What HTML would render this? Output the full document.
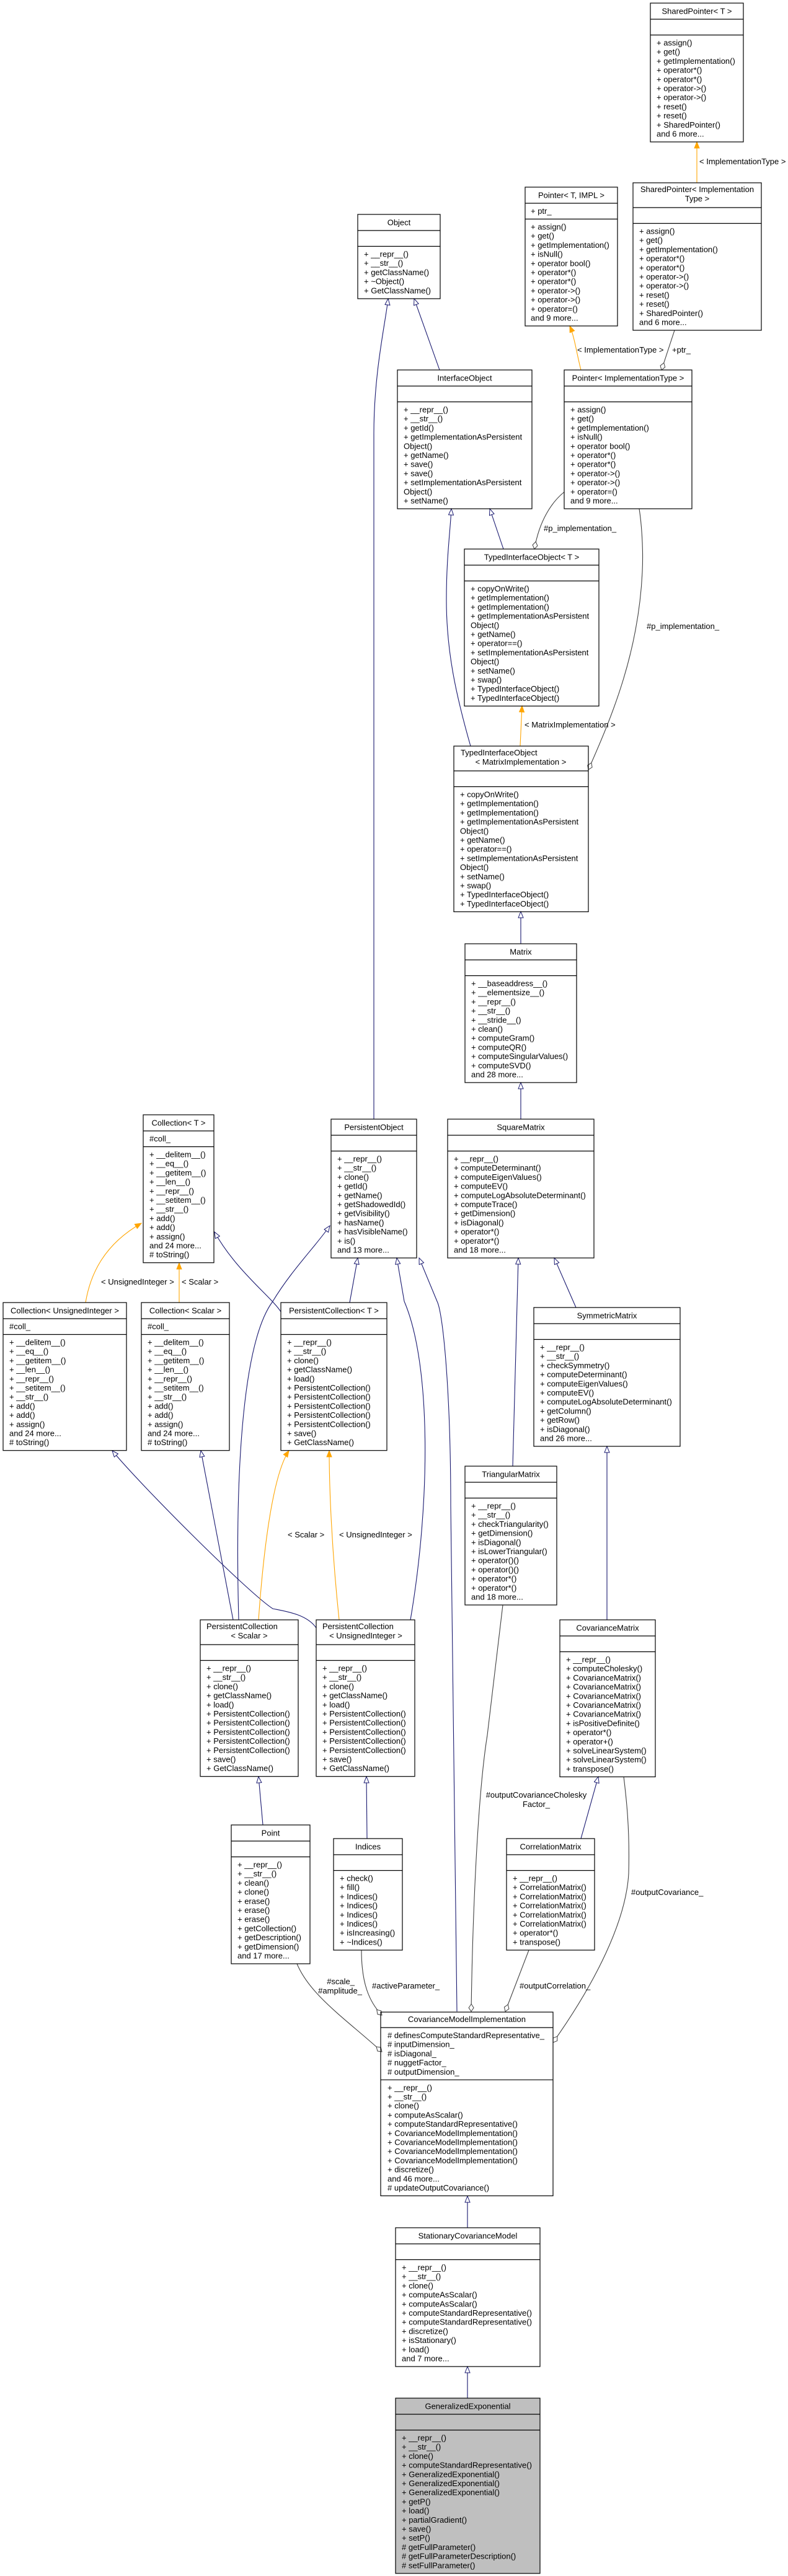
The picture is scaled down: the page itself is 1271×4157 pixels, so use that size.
<!DOCTYPE html>
<html><head><meta charset="utf-8"><style>
html,body{margin:0;padding:0;background:#fff}
svg{display:block}
text{font-family:"Liberation Sans",Arial,sans-serif;font-size:13px;fill:#000}
.c{text-anchor:middle}
.e{text-anchor:end}
rect,.ln{fill:none;stroke:#000;stroke-width:1.2}
.b{fill:none;stroke:#191970;stroke-width:1.1}
.o{fill:none;stroke:#ffa500;stroke-width:1.1}
.g{fill:none;stroke:#404040;stroke-width:1.1}
</style></head><body>
<svg width="1271" height="4157" viewBox="0 0 1271 4157" xmlns="http://www.w3.org/2000/svg">
<defs>
<marker id="tb" markerUnits="userSpaceOnUse" markerWidth="12" markerHeight="10" refX="11" refY="4.5" orient="auto"><path d="M1,0.5 L11,4.5 L1,8.5 Z" fill="#fff" stroke="#191970" stroke-width="1"/></marker>
<marker id="to" markerUnits="userSpaceOnUse" markerWidth="12" markerHeight="10" refX="11" refY="4.5" orient="auto"><path d="M1,0.5 L11,4.5 L1,8.5 Z" fill="#ffa500" stroke="#ffa500" stroke-width="1"/></marker>
<marker id="dg" markerUnits="userSpaceOnUse" markerWidth="14" markerHeight="10" refX="1" refY="5" orient="auto"><path d="M1,5 L7,1 L13,5 L7,9 Z" fill="#fff" stroke="#404040" stroke-width="1"/></marker>
</defs>

<!-- edges: blue inheritance -->
<path class="b" marker-end="url(#tb)" d="M603,1806 L603,700 C603,600 622,520 626,482"/>
<path class="b" marker-end="url(#tb)" d="M709,597 L668,482"/>
<path class="b" marker-end="url(#tb)" d="M812,886 L790,821"/>
<path class="b" marker-end="url(#tb)" d="M759,1204 C735,1120 720,1050 720,968 C720,900 726,860 728,821"/>
<path class="b" marker-end="url(#tb)" d="M840,1523 L840,1471"/>
<path class="b" marker-end="url(#tb)" d="M840,1806 L840,1747"/>
<path class="b" marker-end="url(#tb)" d="M453,2117 C440,2095 380,2050 346,1988"/>
<path class="b" marker-end="url(#tb)" d="M385,2614 C378,2350 395,2160 440,2100 C470,2050 510,2010 532,1978"/>
<path class="b" marker-end="url(#tb)" d="M564,2102 L577,2030"/>
<path class="b" marker-end="url(#tb)" d="M662,2614 C695,2420 695,2200 652,2100 L640,2030"/>
<path class="b" marker-end="url(#tb)" d="M737,3246 L727,2430 C727,2250 715,2120 705,2100 L676,2030"/>
<path class="b" marker-end="url(#tb)" d="M827,2366 L836,2030"/>
<path class="b" marker-end="url(#tb)" d="M929,2110 L894,2030"/>
<path class="b" marker-end="url(#tb)" d="M979,2614 L979,2334"/>
<path class="b" marker-end="url(#tb)" d="M937,2967 L965,2867"/>
<path class="b" marker-end="url(#tb)" d="M510,2627 C495,2605 460,2600 440,2596 C400,2570 230,2400 181,2341"/>
<path class="b" marker-end="url(#tb)" d="M376,2614 L324,2341"/>
<path class="b" marker-end="url(#tb)" d="M424,2945 L417,2867"/>
<path class="b" marker-end="url(#tb)" d="M592,2967 L591,2867"/>
<path class="b" marker-end="url(#tb)" d="M754,3595 L754,3544"/>
<path class="b" marker-end="url(#tb)" d="M754,3870 L754,3819"/>

<!-- orange template -->
<path class="o" marker-end="url(#to)" d="M1124,295 L1124,229"/>
<path class="o" marker-end="url(#to)" d="M937,597 C930,570 927,545 919,526"/>
<path class="o" marker-end="url(#to)" d="M138,2102 C145,2060 165,2010 228,1974"/>
<path class="o" marker-end="url(#to)" d="M289,2102 L289,2038"/>
<path class="o" marker-end="url(#to)" d="M417,2614 C425,2500 440,2380 466,2341"/>
<path class="o" marker-end="url(#to)" d="M547,2614 C535,2500 531,2400 531,2341"/>
<path class="o" marker-end="url(#to)" d="M839,1204 L842,1139"/>

<!-- gray associations -->
<path class="g" marker-start="url(#dg)" d="M1067,597 L1088,533"/>
<path class="g" marker-start="url(#dg)" d="M862,886 C870,840 890,810 910,794"/>
<path class="g" marker-start="url(#dg)" d="M949,1242 C990,1150 1030,1050 1036,923 C1038,880 1034,840 1031,821"/>
<path class="g" marker-start="url(#dg)" d="M760,3246 C762,3100 770,2900 786,2800 L811,2590"/>
<path class="g" marker-start="url(#dg)" d="M815,3246 L853,3147"/>
<path class="g" marker-start="url(#dg)" d="M892,3296 C960,3200 1010,3100 1014,3023 C1016,2950 1010,2900 1006,2867"/>
<path class="g" marker-start="url(#dg)" d="M616,3311 C560,3260 500,3220 479,3169"/>
<path class="g" marker-start="url(#dg)" d="M616,3252 C595,3230 583,3200 583,3147"/>

<!-- edge labels -->
<text x="1128" y="265">&lt; ImplementationType &gt;</text>
<text x="931" y="569">&lt; ImplementationType &gt;</text>
<text x="1084" y="569">+ptr_</text>
<text x="877" y="857">#p_implementation_</text>
<text x="1043" y="1015">#p_implementation_</text>
<text x="846" y="1174">&lt; MatrixImplementation &gt;</text>
<text x="163" y="2073">&lt; UnsignedInteger &gt;</text>
<text x="293" y="2073">&lt; Scalar &gt;</text>
<text x="464" y="2481">&lt; Scalar &gt;</text>
<text x="547" y="2481">&lt; UnsignedInteger &gt;</text>
<text class="c" x="865" y="2901">#outputCovarianceCholesky</text>
<text class="c" x="865" y="2916">Factor_</text>
<text x="1018" y="3058">#outputCovariance_</text>
<text class="e" x="572" y="3202">#scale_</text>
<text class="e" x="584" y="3217">#amplitude_</text>
<text x="600" y="3209">#activeParameter_</text>
<text x="838" y="3209">#outputCorrelation_</text>

<!-- 1 SharedPointer<T> -->
<rect x="1049" y="5" width="150" height="224" fill="#fff"/><path class="ln" d="M1049,31H1199M1049,56.5H1199"/>
<text class="c" x="1124" y="22.5">SharedPointer&lt; T &gt;</text>
<text x="1059" y="73.5"><tspan x="1059" dy="0">+ assign()</tspan><tspan x="1059" dy="14.7">+ get()</tspan><tspan x="1059" dy="14.7">+ getImplementation()</tspan><tspan x="1059" dy="14.7">+ operator*()</tspan><tspan x="1059" dy="14.7">+ operator*()</tspan><tspan x="1059" dy="14.7">+ operator-&gt;()</tspan><tspan x="1059" dy="14.7">+ operator-&gt;()</tspan><tspan x="1059" dy="14.7">+ reset()</tspan><tspan x="1059" dy="14.7">+ reset()</tspan><tspan x="1059" dy="14.7">+ SharedPointer()</tspan><tspan x="1059" dy="14.7">and 6 more...</tspan></text>

<!-- 2 Pointer<T, IMPL> -->
<rect x="847" y="302" width="149" height="224"/><path class="ln" d="M847,328H996M847,353.5H996"/>
<text class="c" x="921.5" y="319.5">Pointer&lt; T, IMPL &gt;</text>
<text x="856" y="345">+ ptr_</text>
<text x="856" y="370.5"><tspan x="856" dy="0">+ assign()</tspan><tspan x="856" dy="14.7">+ get()</tspan><tspan x="856" dy="14.7">+ getImplementation()</tspan><tspan x="856" dy="14.7">+ isNull()</tspan><tspan x="856" dy="14.7">+ operator bool()</tspan><tspan x="856" dy="14.7">+ operator*()</tspan><tspan x="856" dy="14.7">+ operator*()</tspan><tspan x="856" dy="14.7">+ operator-&gt;()</tspan><tspan x="856" dy="14.7">+ operator-&gt;()</tspan><tspan x="856" dy="14.7">+ operator=()</tspan><tspan x="856" dy="14.7">and 9 more...</tspan></text>

<!-- 3 SharedPointer<ImplementationType> -->
<rect x="1021" y="295" width="207" height="238"/><path class="ln" d="M1021,335H1228M1021,360.5H1228"/>
<text class="c" x="1124.5" y="310">SharedPointer&lt; Implementation</text>
<text class="c" x="1124.5" y="325">Type &gt;</text>
<text x="1031" y="377.5"><tspan x="1031" dy="0">+ assign()</tspan><tspan x="1031" dy="14.7">+ get()</tspan><tspan x="1031" dy="14.7">+ getImplementation()</tspan><tspan x="1031" dy="14.7">+ operator*()</tspan><tspan x="1031" dy="14.7">+ operator*()</tspan><tspan x="1031" dy="14.7">+ operator-&gt;()</tspan><tspan x="1031" dy="14.7">+ operator-&gt;()</tspan><tspan x="1031" dy="14.7">+ reset()</tspan><tspan x="1031" dy="14.7">+ reset()</tspan><tspan x="1031" dy="14.7">+ SharedPointer()</tspan><tspan x="1031" dy="14.7">and 6 more...</tspan></text>

<!-- 4 Object -->
<rect x="577" y="346" width="133" height="136"/><path class="ln" d="M577,372H710M577,397.5H710"/>
<text class="c" x="643.5" y="363.5">Object</text>
<text x="587" y="414.5"><tspan x="587" dy="0">+ __repr__()</tspan><tspan x="587" dy="14.7">+ __str__()</tspan><tspan x="587" dy="14.7">+ getClassName()</tspan><tspan x="587" dy="14.7">+ ~Object()</tspan><tspan x="587" dy="14.7">+ GetClassName()</tspan></text>

<!-- 5 InterfaceObject -->
<rect x="641" y="597" width="217" height="224"/><path class="ln" d="M641,623H858M641,648.5H858"/>
<text class="c" x="749.5" y="614.5">InterfaceObject</text>
<text x="651" y="665.5"><tspan x="651" dy="0">+ __repr__()</tspan><tspan x="651" dy="14.7">+ __str__()</tspan><tspan x="651" dy="14.7">+ getId()</tspan><tspan x="651" dy="14.7">+ getImplementationAsPersistent</tspan><tspan x="651" dy="14.7">Object()</tspan><tspan x="651" dy="14.7">+ getName()</tspan><tspan x="651" dy="14.7">+ save()</tspan><tspan x="651" dy="14.7">+ save()</tspan><tspan x="651" dy="14.7">+ setImplementationAsPersistent</tspan><tspan x="651" dy="14.7">Object()</tspan><tspan x="651" dy="14.7">+ setName()</tspan></text>

<!-- 6 Pointer<ImplementationType> -->
<rect x="910" y="597" width="206" height="224"/><path class="ln" d="M910,623H1116M910,648.5H1116"/>
<text class="c" x="1013" y="614.5">Pointer&lt; ImplementationType &gt;</text>
<text x="920" y="665.5"><tspan x="920" dy="0">+ assign()</tspan><tspan x="920" dy="14.7">+ get()</tspan><tspan x="920" dy="14.7">+ getImplementation()</tspan><tspan x="920" dy="14.7">+ isNull()</tspan><tspan x="920" dy="14.7">+ operator bool()</tspan><tspan x="920" dy="14.7">+ operator*()</tspan><tspan x="920" dy="14.7">+ operator*()</tspan><tspan x="920" dy="14.7">+ operator-&gt;()</tspan><tspan x="920" dy="14.7">+ operator-&gt;()</tspan><tspan x="920" dy="14.7">+ operator=()</tspan><tspan x="920" dy="14.7">and 9 more...</tspan></text>

<!-- 7 TypedInterfaceObject<T> -->
<rect x="749" y="886" width="217" height="253.4"/><path class="ln" d="M749,912H966M749,937.5H966"/>
<text class="c" x="857.5" y="903.5">TypedInterfaceObject&lt; T &gt;</text>
<text x="759" y="954.5"><tspan x="759" dy="0">+ copyOnWrite()</tspan><tspan x="759" dy="14.7">+ getImplementation()</tspan><tspan x="759" dy="14.7">+ getImplementation()</tspan><tspan x="759" dy="14.7">+ getImplementationAsPersistent</tspan><tspan x="759" dy="14.7">Object()</tspan><tspan x="759" dy="14.7">+ getName()</tspan><tspan x="759" dy="14.7">+ operator==()</tspan><tspan x="759" dy="14.7">+ setImplementationAsPersistent</tspan><tspan x="759" dy="14.7">Object()</tspan><tspan x="759" dy="14.7">+ setName()</tspan><tspan x="759" dy="14.7">+ swap()</tspan><tspan x="759" dy="14.7">+ TypedInterfaceObject()</tspan><tspan x="759" dy="14.7">+ TypedInterfaceObject()</tspan></text>

<!-- 8 TypedInterfaceObject<MatrixImplementation> -->
<rect x="732" y="1204" width="217" height="267.4"/><path class="ln" d="M732,1244H949M732,1269.5H949"/>
<text x="743" y="1219">TypedInterfaceObject</text>
<text class="c" x="840" y="1234">&lt; MatrixImplementation &gt;</text>
<text x="742" y="1286.5"><tspan x="742" dy="0">+ copyOnWrite()</tspan><tspan x="742" dy="14.7">+ getImplementation()</tspan><tspan x="742" dy="14.7">+ getImplementation()</tspan><tspan x="742" dy="14.7">+ getImplementationAsPersistent</tspan><tspan x="742" dy="14.7">Object()</tspan><tspan x="742" dy="14.7">+ getName()</tspan><tspan x="742" dy="14.7">+ operator==()</tspan><tspan x="742" dy="14.7">+ setImplementationAsPersistent</tspan><tspan x="742" dy="14.7">Object()</tspan><tspan x="742" dy="14.7">+ setName()</tspan><tspan x="742" dy="14.7">+ swap()</tspan><tspan x="742" dy="14.7">+ TypedInterfaceObject()</tspan><tspan x="742" dy="14.7">+ TypedInterfaceObject()</tspan></text>

<!-- 9 Matrix -->
<rect x="750" y="1523" width="180" height="224"/><path class="ln" d="M750,1549H930M750,1574.5H930"/>
<text class="c" x="840" y="1540.5">Matrix</text>
<text x="760" y="1591.5"><tspan x="760" dy="0">+ __baseaddress__()</tspan><tspan x="760" dy="14.7">+ __elementsize__()</tspan><tspan x="760" dy="14.7">+ __repr__()</tspan><tspan x="760" dy="14.7">+ __str__()</tspan><tspan x="760" dy="14.7">+ __stride__()</tspan><tspan x="760" dy="14.7">+ clean()</tspan><tspan x="760" dy="14.7">+ computeGram()</tspan><tspan x="760" dy="14.7">+ computeQR()</tspan><tspan x="760" dy="14.7">+ computeSingularValues()</tspan><tspan x="760" dy="14.7">+ computeSVD()</tspan><tspan x="760" dy="14.7">and 28 more...</tspan></text>

<!-- 10 Collection<T> -->
<rect x="231" y="1799" width="114" height="238.7"/><path class="ln" d="M231,1825H345M231,1850.5H345"/>
<text class="c" x="288" y="1816.5">Collection&lt; T &gt;</text>
<text x="241" y="1842">#coll_</text>
<text x="241" y="1867.5"><tspan x="241" dy="0">+ __delitem__()</tspan><tspan x="241" dy="14.7">+ __eq__()</tspan><tspan x="241" dy="14.7">+ __getitem__()</tspan><tspan x="241" dy="14.7">+ __len__()</tspan><tspan x="241" dy="14.7">+ __repr__()</tspan><tspan x="241" dy="14.7">+ __setitem__()</tspan><tspan x="241" dy="14.7">+ __str__()</tspan><tspan x="241" dy="14.7">+ add()</tspan><tspan x="241" dy="14.7">+ add()</tspan><tspan x="241" dy="14.7">+ assign()</tspan><tspan x="241" dy="14.7">and 24 more...</tspan><tspan x="241" dy="14.7"># toString()</tspan></text>

<!-- 11 PersistentObject -->
<rect x="534" y="1806" width="138" height="224"/><path class="ln" d="M534,1832H672M534,1857.5H672"/>
<text class="c" x="603" y="1823.5">PersistentObject</text>
<text x="544" y="1874.5"><tspan x="544" dy="0">+ __repr__()</tspan><tspan x="544" dy="14.7">+ __str__()</tspan><tspan x="544" dy="14.7">+ clone()</tspan><tspan x="544" dy="14.7">+ getId()</tspan><tspan x="544" dy="14.7">+ getName()</tspan><tspan x="544" dy="14.7">+ getShadowedId()</tspan><tspan x="544" dy="14.7">+ getVisibility()</tspan><tspan x="544" dy="14.7">+ hasName()</tspan><tspan x="544" dy="14.7">+ hasVisibleName()</tspan><tspan x="544" dy="14.7">+ is()</tspan><tspan x="544" dy="14.7">and 13 more...</tspan></text>

<!-- 12 SquareMatrix -->
<rect x="722" y="1806" width="236" height="224"/><path class="ln" d="M722,1832H958M722,1857.5H958"/>
<text class="c" x="840" y="1823.5">SquareMatrix</text>
<text x="732" y="1874.5"><tspan x="732" dy="0">+ __repr__()</tspan><tspan x="732" dy="14.7">+ computeDeterminant()</tspan><tspan x="732" dy="14.7">+ computeEigenValues()</tspan><tspan x="732" dy="14.7">+ computeEV()</tspan><tspan x="732" dy="14.7">+ computeLogAbsoluteDeterminant()</tspan><tspan x="732" dy="14.7">+ computeTrace()</tspan><tspan x="732" dy="14.7">+ getDimension()</tspan><tspan x="732" dy="14.7">+ isDiagonal()</tspan><tspan x="732" dy="14.7">+ operator*()</tspan><tspan x="732" dy="14.7">+ operator*()</tspan><tspan x="732" dy="14.7">and 18 more...</tspan></text>

<!-- 13 Collection<UnsignedInteger> -->
<rect x="5" y="2102" width="199" height="238.7"/><path class="ln" d="M5,2128H204M5,2153.5H204"/>
<text class="c" x="104.5" y="2119.5">Collection&lt; UnsignedInteger &gt;</text>
<text x="15" y="2145">#coll_</text>
<text x="15" y="2170.5"><tspan x="15" dy="0">+ __delitem__()</tspan><tspan x="15" dy="14.7">+ __eq__()</tspan><tspan x="15" dy="14.7">+ __getitem__()</tspan><tspan x="15" dy="14.7">+ __len__()</tspan><tspan x="15" dy="14.7">+ __repr__()</tspan><tspan x="15" dy="14.7">+ __setitem__()</tspan><tspan x="15" dy="14.7">+ __str__()</tspan><tspan x="15" dy="14.7">+ add()</tspan><tspan x="15" dy="14.7">+ add()</tspan><tspan x="15" dy="14.7">+ assign()</tspan><tspan x="15" dy="14.7">and 24 more...</tspan><tspan x="15" dy="14.7"># toString()</tspan></text>

<!-- 14 Collection<Scalar> -->
<rect x="228" y="2102" width="142" height="238.7"/><path class="ln" d="M228,2128H370M228,2153.5H370"/>
<text class="c" x="299" y="2119.5">Collection&lt; Scalar &gt;</text>
<text x="238" y="2145">#coll_</text>
<text x="238" y="2170.5"><tspan x="238" dy="0">+ __delitem__()</tspan><tspan x="238" dy="14.7">+ __eq__()</tspan><tspan x="238" dy="14.7">+ __getitem__()</tspan><tspan x="238" dy="14.7">+ __len__()</tspan><tspan x="238" dy="14.7">+ __repr__()</tspan><tspan x="238" dy="14.7">+ __setitem__()</tspan><tspan x="238" dy="14.7">+ __str__()</tspan><tspan x="238" dy="14.7">+ add()</tspan><tspan x="238" dy="14.7">+ add()</tspan><tspan x="238" dy="14.7">+ assign()</tspan><tspan x="238" dy="14.7">and 24 more...</tspan><tspan x="238" dy="14.7"># toString()</tspan></text>

<!-- 15 PersistentCollection<T> -->
<rect x="453" y="2102" width="171" height="238.7"/><path class="ln" d="M453,2128H624M453,2153.5H624"/>
<text class="c" x="538.5" y="2119.5">PersistentCollection&lt; T &gt;</text>
<text x="463" y="2170.5"><tspan x="463" dy="0">+ __repr__()</tspan><tspan x="463" dy="14.7">+ __str__()</tspan><tspan x="463" dy="14.7">+ clone()</tspan><tspan x="463" dy="14.7">+ getClassName()</tspan><tspan x="463" dy="14.7">+ load()</tspan><tspan x="463" dy="14.7">+ PersistentCollection()</tspan><tspan x="463" dy="14.7">+ PersistentCollection()</tspan><tspan x="463" dy="14.7">+ PersistentCollection()</tspan><tspan x="463" dy="14.7">+ PersistentCollection()</tspan><tspan x="463" dy="14.7">+ PersistentCollection()</tspan><tspan x="463" dy="14.7">+ save()</tspan><tspan x="463" dy="14.7">+ GetClassName()</tspan></text>

<!-- 16 SymmetricMatrix -->
<rect x="861" y="2110" width="236" height="224"/><path class="ln" d="M861,2136H1097M861,2161.5H1097"/>
<text class="c" x="979" y="2127.5">SymmetricMatrix</text>
<text x="871" y="2178.5"><tspan x="871" dy="0">+ __repr__()</tspan><tspan x="871" dy="14.7">+ __str__()</tspan><tspan x="871" dy="14.7">+ checkSymmetry()</tspan><tspan x="871" dy="14.7">+ computeDeterminant()</tspan><tspan x="871" dy="14.7">+ computeEigenValues()</tspan><tspan x="871" dy="14.7">+ computeEV()</tspan><tspan x="871" dy="14.7">+ computeLogAbsoluteDeterminant()</tspan><tspan x="871" dy="14.7">+ getColumn()</tspan><tspan x="871" dy="14.7">+ getRow()</tspan><tspan x="871" dy="14.7">+ isDiagonal()</tspan><tspan x="871" dy="14.7">and 26 more...</tspan></text>

<!-- 17 TriangularMatrix -->
<rect x="750" y="2366" width="148" height="224"/><path class="ln" d="M750,2392H898M750,2417.5H898"/>
<text class="c" x="824" y="2383.5">TriangularMatrix</text>
<text x="760" y="2434.5"><tspan x="760" dy="0">+ __repr__()</tspan><tspan x="760" dy="14.7">+ __str__()</tspan><tspan x="760" dy="14.7">+ checkTriangularity()</tspan><tspan x="760" dy="14.7">+ getDimension()</tspan><tspan x="760" dy="14.7">+ isDiagonal()</tspan><tspan x="760" dy="14.7">+ isLowerTriangular()</tspan><tspan x="760" dy="14.7">+ operator()()</tspan><tspan x="760" dy="14.7">+ operator()()</tspan><tspan x="760" dy="14.7">+ operator*()</tspan><tspan x="760" dy="14.7">+ operator*()</tspan><tspan x="760" dy="14.7">and 18 more...</tspan></text>

<!-- 18 PersistentCollection<Scalar> -->
<rect x="323" y="2614" width="158" height="252.7"/><path class="ln" d="M323,2654H481M323,2679.5H481"/>
<text x="333" y="2629">PersistentCollection</text>
<text class="c" x="402" y="2644">&lt; Scalar &gt;</text>
<text x="333" y="2696.5"><tspan x="333" dy="0">+ __repr__()</tspan><tspan x="333" dy="14.7">+ __str__()</tspan><tspan x="333" dy="14.7">+ clone()</tspan><tspan x="333" dy="14.7">+ getClassName()</tspan><tspan x="333" dy="14.7">+ load()</tspan><tspan x="333" dy="14.7">+ PersistentCollection()</tspan><tspan x="333" dy="14.7">+ PersistentCollection()</tspan><tspan x="333" dy="14.7">+ PersistentCollection()</tspan><tspan x="333" dy="14.7">+ PersistentCollection()</tspan><tspan x="333" dy="14.7">+ PersistentCollection()</tspan><tspan x="333" dy="14.7">+ save()</tspan><tspan x="333" dy="14.7">+ GetClassName()</tspan></text>

<!-- 19 PersistentCollection<UnsignedInteger> -->
<rect x="510" y="2614" width="159" height="252.7"/><path class="ln" d="M510,2654H669M510,2679.5H669"/>
<text x="520" y="2629">PersistentCollection</text>
<text class="c" x="590" y="2644">&lt; UnsignedInteger &gt;</text>
<text x="520" y="2696.5"><tspan x="520" dy="0">+ __repr__()</tspan><tspan x="520" dy="14.7">+ __str__()</tspan><tspan x="520" dy="14.7">+ clone()</tspan><tspan x="520" dy="14.7">+ getClassName()</tspan><tspan x="520" dy="14.7">+ load()</tspan><tspan x="520" dy="14.7">+ PersistentCollection()</tspan><tspan x="520" dy="14.7">+ PersistentCollection()</tspan><tspan x="520" dy="14.7">+ PersistentCollection()</tspan><tspan x="520" dy="14.7">+ PersistentCollection()</tspan><tspan x="520" dy="14.7">+ PersistentCollection()</tspan><tspan x="520" dy="14.7">+ save()</tspan><tspan x="520" dy="14.7">+ GetClassName()</tspan></text>

<!-- 20 CovarianceMatrix -->
<rect x="903" y="2614" width="154" height="253.4"/><path class="ln" d="M903,2640H1057M903,2665.5H1057"/>
<text class="c" x="980" y="2631.5">CovarianceMatrix</text>
<text x="913" y="2682.5"><tspan x="913" dy="0">+ __repr__()</tspan><tspan x="913" dy="14.7">+ computeCholesky()</tspan><tspan x="913" dy="14.7">+ CovarianceMatrix()</tspan><tspan x="913" dy="14.7">+ CovarianceMatrix()</tspan><tspan x="913" dy="14.7">+ CovarianceMatrix()</tspan><tspan x="913" dy="14.7">+ CovarianceMatrix()</tspan><tspan x="913" dy="14.7">+ CovarianceMatrix()</tspan><tspan x="913" dy="14.7">+ isPositiveDefinite()</tspan><tspan x="913" dy="14.7">+ operator*()</tspan><tspan x="913" dy="14.7">+ operator+()</tspan><tspan x="913" dy="14.7">+ solveLinearSystem()</tspan><tspan x="913" dy="14.7">+ solveLinearSystem()</tspan><tspan x="913" dy="14.7">+ transpose()</tspan></text>

<!-- 21 Point -->
<rect x="373" y="2945" width="127" height="224"/><path class="ln" d="M373,2971H500M373,2996.5H500"/>
<text class="c" x="436.5" y="2962.5">Point</text>
<text x="383" y="3013.5"><tspan x="383" dy="0">+ __repr__()</tspan><tspan x="383" dy="14.7">+ __str__()</tspan><tspan x="383" dy="14.7">+ clean()</tspan><tspan x="383" dy="14.7">+ clone()</tspan><tspan x="383" dy="14.7">+ erase()</tspan><tspan x="383" dy="14.7">+ erase()</tspan><tspan x="383" dy="14.7">+ erase()</tspan><tspan x="383" dy="14.7">+ getCollection()</tspan><tspan x="383" dy="14.7">+ getDescription()</tspan><tspan x="383" dy="14.7">+ getDimension()</tspan><tspan x="383" dy="14.7">and 17 more...</tspan></text>

<!-- 22 Indices -->
<rect x="538" y="2967" width="111" height="180"/><path class="ln" d="M538,2993H649M538,3018.5H649"/>
<text class="c" x="593.5" y="2984.5">Indices</text>
<text x="548" y="3035.5"><tspan x="548" dy="0">+ check()</tspan><tspan x="548" dy="14.7">+ fill()</tspan><tspan x="548" dy="14.7">+ Indices()</tspan><tspan x="548" dy="14.7">+ Indices()</tspan><tspan x="548" dy="14.7">+ Indices()</tspan><tspan x="548" dy="14.7">+ Indices()</tspan><tspan x="548" dy="14.7">+ isIncreasing()</tspan><tspan x="548" dy="14.7">+ ~Indices()</tspan></text>

<!-- 23 CorrelationMatrix -->
<rect x="817" y="2967" width="142" height="180"/><path class="ln" d="M817,2993H959M817,3018.5H959"/>
<text class="c" x="888" y="2984.5">CorrelationMatrix</text>
<text x="827" y="3035.5"><tspan x="827" dy="0">+ __repr__()</tspan><tspan x="827" dy="14.7">+ CorrelationMatrix()</tspan><tspan x="827" dy="14.7">+ CorrelationMatrix()</tspan><tspan x="827" dy="14.7">+ CorrelationMatrix()</tspan><tspan x="827" dy="14.7">+ CorrelationMatrix()</tspan><tspan x="827" dy="14.7">+ CorrelationMatrix()</tspan><tspan x="827" dy="14.7">+ operator*()</tspan><tspan x="827" dy="14.7">+ transpose()</tspan></text>

<!-- 24 CovarianceModelImplementation -->
<rect x="614" y="3247" width="278" height="296.5"/><path class="ln" d="M614,3272H892M614,3356.3H892"/>
<text class="c" x="753" y="3263">CovarianceModelImplementation</text>
<text x="625" y="3289"><tspan x="625" dy="0"># definesComputeStandardRepresentative_</tspan><tspan x="625" dy="14.7"># inputDimension_</tspan><tspan x="625" dy="14.7"># isDiagonal_</tspan><tspan x="625" dy="14.7"># nuggetFactor_</tspan><tspan x="625" dy="14.7"># outputDimension_</tspan></text>
<text x="625" y="3373.3"><tspan x="625" dy="0">+ __repr__()</tspan><tspan x="625" dy="14.7">+ __str__()</tspan><tspan x="625" dy="14.7">+ clone()</tspan><tspan x="625" dy="14.7">+ computeAsScalar()</tspan><tspan x="625" dy="14.7">+ computeStandardRepresentative()</tspan><tspan x="625" dy="14.7">+ CovarianceModelImplementation()</tspan><tspan x="625" dy="14.7">+ CovarianceModelImplementation()</tspan><tspan x="625" dy="14.7">+ CovarianceModelImplementation()</tspan><tspan x="625" dy="14.7">+ CovarianceModelImplementation()</tspan><tspan x="625" dy="14.7">+ discretize()</tspan><tspan x="625" dy="14.7">and 46 more...</tspan><tspan x="625" dy="14.7"># updateOutputCovariance()</tspan></text>

<!-- 25 StationaryCovarianceModel -->
<rect x="638" y="3595" width="233" height="224"/><path class="ln" d="M638,3621H871M638,3646.5H871"/>
<text class="c" x="754.5" y="3612.5">StationaryCovarianceModel</text>
<text x="648" y="3663.5"><tspan x="648" dy="0">+ __repr__()</tspan><tspan x="648" dy="14.7">+ __str__()</tspan><tspan x="648" dy="14.7">+ clone()</tspan><tspan x="648" dy="14.7">+ computeAsScalar()</tspan><tspan x="648" dy="14.7">+ computeAsScalar()</tspan><tspan x="648" dy="14.7">+ computeStandardRepresentative()</tspan><tspan x="648" dy="14.7">+ computeStandardRepresentative()</tspan><tspan x="648" dy="14.7">+ discretize()</tspan><tspan x="648" dy="14.7">+ isStationary()</tspan><tspan x="648" dy="14.7">+ load()</tspan><tspan x="648" dy="14.7">and 7 more...</tspan></text>

<!-- 26 GeneralizedExponential -->
<rect x="638" y="3870" width="233" height="282.8" style="fill:#bfbfbf"/><path class="ln" d="M638,3896H871M638,3921.5H871"/>
<text class="c" x="754.5" y="3887.5">GeneralizedExponential</text>
<text x="648" y="3938.5"><tspan x="648" dy="0">+ __repr__()</tspan><tspan x="648" dy="14.7">+ __str__()</tspan><tspan x="648" dy="14.7">+ clone()</tspan><tspan x="648" dy="14.7">+ computeStandardRepresentative()</tspan><tspan x="648" dy="14.7">+ GeneralizedExponential()</tspan><tspan x="648" dy="14.7">+ GeneralizedExponential()</tspan><tspan x="648" dy="14.7">+ GeneralizedExponential()</tspan><tspan x="648" dy="14.7">+ getP()</tspan><tspan x="648" dy="14.7">+ load()</tspan><tspan x="648" dy="14.7">+ partialGradient()</tspan><tspan x="648" dy="14.7">+ save()</tspan><tspan x="648" dy="14.7">+ setP()</tspan><tspan x="648" dy="14.7"># getFullParameter()</tspan><tspan x="648" dy="14.7"># getFullParameterDescription()</tspan><tspan x="648" dy="14.7"># setFullParameter()</tspan></text>
</svg>
</body></html>
